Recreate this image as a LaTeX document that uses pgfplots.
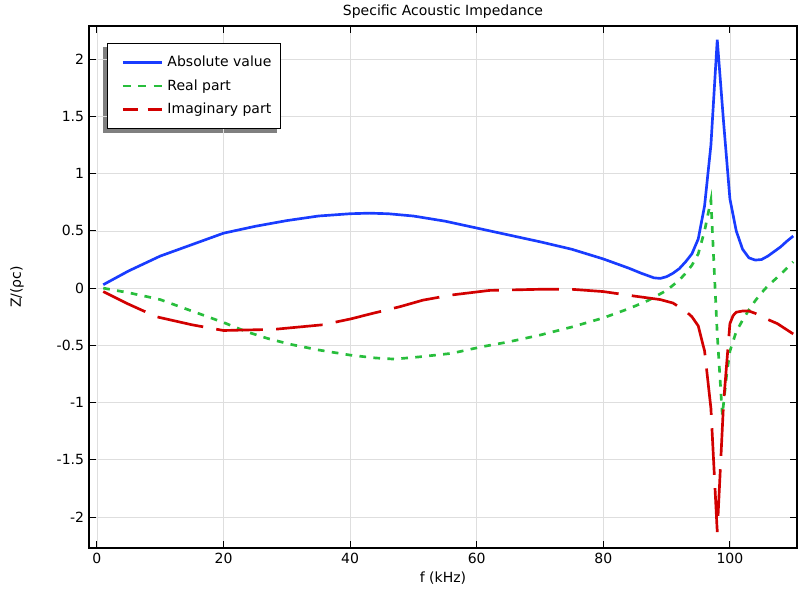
\documentclass[border=0pt]{standalone}
\usepackage{fontspec}
\setmainfont{DejaVu Sans}
\usepackage{pgfplots}
\pgfplotsset{compat=1.18}
\pgfdeclarelayer{background}
\pgfsetlayers{background,main}
\definecolor{cblue}{RGB}{25,60,255}
\definecolor{cgreen}{RGB}{40,190,60}
\definecolor{cred}{RGB}{210,0,0}
\pgfplotsset{
  blueleg/.style={legend image code/.code={\path (0pt,0pt); \draw[##1] (6pt,0pt) -- (35pt,0pt);}},
  greenleg/.style={legend image code/.code={\path (0pt,0pt); \draw[##1, dash pattern=on 6pt off 5.5pt] (6pt,0pt) -- (35pt,0pt);}},
  redleg/.style={legend image code/.code={\path (0pt,0pt); \draw[##1, dash pattern=on 11pt off 7.5pt] (6pt,0pt) -- (35pt,0pt);}},
}
\begin{document}
\fontsize{10.5}{12.6}\selectfont
\begin{tikzpicture}
\begin{axis}[
  scale only axis,
  width=531pt, height=391.5pt,
  xmin=-1.25, xmax=110.6,
  ymin=-2.27, ymax=2.29,
  xtick={0,20,40,60,80,100},
  ytick={-2,-1.5,-1,-0.5,0,0.5,1,1.5,2},
  yticklabels={-2,-1.5,-1,-0.5,0,0.5,1,1.5,2},
  /pgf/number format/assume math mode=true,
  tick label style={font=\fontsize{10.5}{12.6}\selectfont},
  label style={font=\fontsize{10.5}{12.6}\selectfont},
  every axis title shift=0pt,
  title style={font=\fontsize{10.5}{12.6}\selectfont, at={(axis description cs:0.5,1.0268)}, anchor=center},
  xlabel style={at={(axis description cs:0.5,-0.0575)}, anchor=center},
  ylabel style={at={(axis description cs:-0.1017,0.5)}, anchor=center},
  title={Specific Acoustic Impedance},
  xlabel={f (kHz)},
  ylabel={Z/(ρc)},
  grid=major,
  major grid style={line width=0.6pt, color=black!13},
  axis line style={line width=0.9pt, black},
  tick style={line width=0.75pt, black},
  major tick length=5pt,
  tick align=inside,
  legend cell align=left,
  legend style={name=leg, at={(axis description cs:0,1)}, anchor=north west, xshift=13.5pt, yshift=-12.75pt,
    draw=black, line width=0.75pt, fill=white,
    font=\fontsize{10.5}{12.6}\selectfont, row sep=4.25pt, inner xsep=4.5pt, inner ysep=7.25pt,
    /tikz/every odd column/.append style={column sep=1.5pt}},
]
\addplot[color=cblue, line width=2pt, solid, blueleg] coordinates {
(1,0.03) (5,0.15) (10,0.28) (15,0.38) (20,0.48) (25,0.54) (30,0.59) (35,0.63)
(40,0.65) (43,0.655) (46,0.65) (50,0.63) (55,0.585) (60,0.525) (65,0.465)
(70,0.405) (75,0.34) (80,0.255) (84,0.175) (86,0.13) (88,0.09) (89,0.085)
(90,0.1) (91,0.13) (92,0.17) (93,0.23) (94,0.30) (95,0.43) (96,0.72)
(97,1.25) (98,2.17) (99,1.45) (100,0.78) (101,0.5) (102,0.34) (103,0.265)
(104,0.245) (105,0.25) (106,0.28) (107,0.32) (108,0.36) (109,0.41) (110,0.455)
};
\addlegendentry{Absolute value}
\addplot[color=cgreen, line width=2pt, dash pattern=on 5pt off 5.5pt, greenleg] coordinates {
(1,0.0) (5,-0.04) (8.4,-0.08) (10,-0.1) (13,-0.16) (17,-0.24) (20,-0.3)
(23.6,-0.38) (27,-0.44) (30.5,-0.49) (35,-0.54) (40,-0.585) (44,-0.61)
(47,-0.62) (51,-0.6) (56,-0.57) (61,-0.51) (65,-0.47) (70,-0.41) (75,-0.34)
(80,-0.26) (84,-0.18) (87,-0.11) (90,-0.02) (92,0.07) (93,0.13) (94,0.2)
(95,0.3) (96,0.5) (97,0.77) (98,-0.4) (98.8,-1.11) (99.5,-0.75) (100,-0.55)
(101,-0.38) (102,-0.28) (103,-0.19) (104,-0.11) (105,-0.04) (106,0.02)
(108,0.12) (110,0.23)
};
\addlegendentry{Real part}
\addplot[color=cred, line width=2pt, dash pattern=on 35pt off 10pt, redleg] coordinates {
(1,-0.03) (5,-0.14) (9.4,-0.25) (15,-0.32) (20,-0.37) (28,-0.36) (35.7,-0.32)
(40,-0.27) (43.6,-0.22) (48,-0.16) (51.5,-0.105) (56,-0.06) (62,-0.02)
(70,-0.01) (75,-0.01) (80,-0.03) (85,-0.07) (89,-0.1) (91,-0.13) (93,-0.2)
(94,-0.25) (95,-0.33) (96,-0.55) (97,-1.05) (98,-2.13) (99,-1.0) (100,-0.31)
(100.5,-0.24) (101,-0.21) (102,-0.2) (103,-0.2) (104,-0.22) (105,-0.25)
(107.5,-0.31) (110,-0.40)
};
\addlegendentry{Imaginary part}
\end{axis}
\begin{pgfonlayer}{background}
\fill[black!50] ([shift={(-3pt,-3pt)}]leg.south west) rectangle ([shift={(-3pt,-3pt)}]leg.north east);
\end{pgfonlayer}
\pgfresetboundingbox
\useasboundingbox ([shift={(-66.75pt,-32.25pt)}]current axis.south west) rectangle ([shift={(1.5pt,19.5pt)}]current axis.north east);
\end{tikzpicture}
\end{document}
